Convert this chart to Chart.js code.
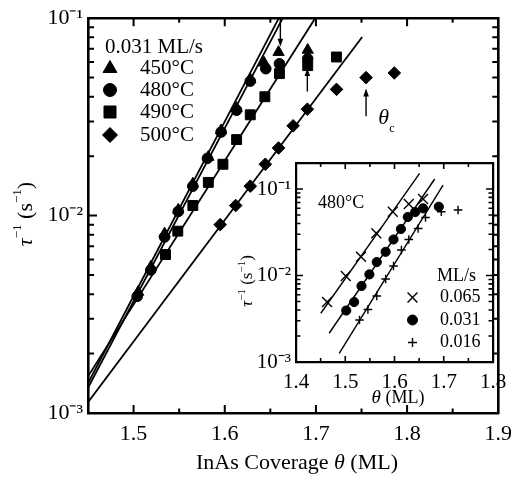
<!DOCTYPE html>
<html><head><meta charset="utf-8">
<script src="https://cdn.jsdelivr.net/npm/chart.js@4/dist/chart.umd.min.js"></script>
<style>
html,body{margin:0;padding:0;background:#fff;}
#wrap{position:relative;width:520px;height:478px;background:#fff;}
canvas{position:absolute;left:0;top:0;}
</style></head><body>
<div id="wrap"><canvas id="main" width="520" height="478"></canvas><canvas id="inset" width="520" height="478"></canvas></div>
<script>
// ---------------- main panel data ----------------
const mainRate = '0.031 ML/s';
const seriesNames = ['450°C', '480°C', '490°C', '500°C'];
const theta450 = [1.505, 1.519, 1.534, 1.549, 1.565, 1.582, 1.596, 1.613, 1.628, 1.643, 1.659, 1.691];
const tau450   = [0.0041, 0.0055, 0.0081, 0.0107, 0.0145, 0.0198, 0.0270, 0.0350, 0.0490, 0.0595, 0.0673, 0.0690];
const theta480 = [1.504, 1.519, 1.534, 1.549, 1.565, 1.581, 1.596, 1.613, 1.628, 1.645, 1.660, 1.691];
const tau480   = [0.0039, 0.0053, 0.0078, 0.0105, 0.0141, 0.0195, 0.0265, 0.0342, 0.0480, 0.0555, 0.0588, 0.0623];
const theta490 = [1.535, 1.5485, 1.565, 1.582, 1.598, 1.613, 1.628, 1.644, 1.660, 1.691, 1.7225];
const tau490   = [0.00635, 0.00834, 0.01125, 0.01473, 0.0182, 0.02427, 0.0324, 0.0400, 0.0524, 0.0575, 0.0636];
const theta500 = [1.595, 1.612, 1.628, 1.6445, 1.659, 1.675, 1.6906, 1.7226, 1.755, 1.786];
const tau500   = [0.0090, 0.01125, 0.0141, 0.0182, 0.0220, 0.0285, 0.0346, 0.0436, 0.0500, 0.0528];
// fitted lines (end points)
const fitTheta450 = [1.45, 1.6593]; const fitTau450 = [0.001414, 0.1];
const fitTheta480 = [1.45, 1.6636]; const fitTau480 = [0.001343, 0.1];
const fitTheta490 = [1.45, 1.6992]; const fitTau490 = [0.001533, 0.1];
const fitTheta500 = [1.45, 1.7507]; const fitTau500 = [0.001135, 0.0803];
// arrows marking theta_c
const arrowTheta = [1.661, 1.6906, 1.755];
const arrowFrom  = [0.1, 0.0425, 0.0319];
const arrowTo    = [0.0716, 0.0560, 0.0441];
const thetaCLabelAt = [1.7685, 0.0312];

// ---------------- inset data ----------------
const insetTemp = '480°C';
const insetUnit = 'ML/s';
const insetRates = ['0.065', '0.031', '0.016'];
const thetaR065 = [1.463, 1.501, 1.532, 1.563, 1.5965, 1.629, 1.658];
const tauR065   = [0.00494, 0.00986, 0.0165, 0.0308, 0.0547, 0.0671, 0.0766];
const thetaR031 = [1.502, 1.518, 1.533, 1.549, 1.564, 1.582, 1.598, 1.613, 1.627, 1.642, 1.658, 1.690];
const tauR031   = [0.00394, 0.00494, 0.00757, 0.0103, 0.0143, 0.0188, 0.0261, 0.0345, 0.0475, 0.0542, 0.0598, 0.0624];
const thetaR016 = [1.529, 1.546, 1.564, 1.582, 1.598, 1.614, 1.629, 1.648, 1.663, 1.695, 1.729];
const tauR016   = [0.00306, 0.00405, 0.00579, 0.00912, 0.0129, 0.0197, 0.0261, 0.0349, 0.0469, 0.0547, 0.0572];
const fitThetaR065 = [1.4504, 1.651]; const fitTauR065 = [0.00366, 0.152];
const fitThetaR031 = [1.4673, 1.6816]; const fitTauR031 = [0.00215, 0.1306];
const fitThetaR016 = [1.4878, 1.6986]; const fitTauR016 = [0.00126, 0.111];

// ---------------- helpers ----------------
const FONT = "'Liberation Serif','Times New Roman',serif";
const BLACK = '#000';
function pts(xs, ys) { return xs.map((x, i) => ({ x: x, y: ys[i] })); }
function markerDS(label, xs, ys, style, r, bw) {
  return { label: label, data: pts(xs, ys), pointStyle: style, pointRadius: r, pointHoverRadius: r,
    backgroundColor: BLACK, borderColor: BLACK, pointBorderWidth: bw, showLine: false, order: 1 };
}
function lineDS(xs, ys, w) {
  return { label: 'fit', data: pts(xs, ys), showLine: true, pointRadius: 0, pointHoverRadius: 0,
    borderColor: BLACK, borderWidth: w, fill: false, tension: 0, order: 2 };
}
const SUP = { '-': '⁻', '0': '⁰', '1': '¹', '2': '²', '3': '³', '4': '⁴', '5': '⁵', '6': '⁶', '7': '⁷', '8': '⁸', '9': '⁹' };
function decadeLabel(v) {
  const e = Math.log10(v);
  if (Math.abs(e - Math.round(e)) > 1e-6) return '';
  return '10' + String(Math.round(e)).split('').map(c => SUP[c]).join('');
}
function isTenth(v) { return Math.abs(v * 10 - Math.round(v * 10)) < 1e-6; }
function drawMarker(ctx, style, x, y, r, lw) {
  ctx.save(); ctx.fillStyle = BLACK; ctx.strokeStyle = BLACK; ctx.lineWidth = lw; ctx.beginPath();
  if (style === 'triangle') { ctx.moveTo(x, y - r); ctx.lineTo(x + 0.866 * r, y + 0.5 * r); ctx.lineTo(x - 0.866 * r, y + 0.5 * r); ctx.closePath(); ctx.fill(); ctx.stroke(); }
  else if (style === 'circle') { ctx.arc(x, y, r, 0, Math.PI * 2); ctx.fill(); ctx.stroke(); }
  else if (style === 'rect') { const s = 0.7071 * r; ctx.rect(x - s, y - s, 2 * s, 2 * s); ctx.fill(); ctx.stroke(); }
  else if (style === 'rectRot') { ctx.moveTo(x, y - r); ctx.lineTo(x + r, y); ctx.lineTo(x, y + r); ctx.lineTo(x - r, y); ctx.closePath(); ctx.fill(); ctx.stroke(); }
  else if (style === 'crossRot') { const s = 0.7071 * r; ctx.moveTo(x - s, y - s); ctx.lineTo(x + s, y + s); ctx.moveTo(x + s, y - s); ctx.lineTo(x - s, y + s); ctx.stroke(); }
  else if (style === 'cross') { ctx.moveTo(x - r, y); ctx.lineTo(x + r, y); ctx.moveTo(x, y - r); ctx.lineTo(x, y + r); ctx.stroke(); }
  ctx.restore();
}
function drawRich(ctx, pieces, cx, cy, rot) {
  ctx.save(); ctx.translate(cx, cy); if (rot) ctx.rotate(rot);
  let w = 0;
  pieces.forEach(p => { ctx.font = p.font; p.w = ctx.measureText(p.t).width; w += p.w; });
  let x = -w / 2; ctx.textBaseline = 'middle'; ctx.textAlign = 'left'; ctx.fillStyle = BLACK;
  pieces.forEach(p => { ctx.font = p.font; ctx.fillText(p.t, x, p.dy || 0); x += p.w; });
  ctx.restore();
}
function text(ctx, t, x, y, font, align) {
  ctx.save(); ctx.font = font; ctx.fillStyle = BLACK; ctx.textAlign = align || 'left'; ctx.textBaseline = 'middle';
  ctx.fillText(t, x, y); ctx.restore();
}
function logMinors(lo, hi) { // tick positions 2..9 x decade within range
  const out = [];
  for (let e = Math.floor(Math.log10(lo)); e <= Math.ceil(Math.log10(hi)); e++) {
    for (let m = 2; m <= 9; m++) { const v = m * Math.pow(10, e); if (v > lo * 1.0001 && v < hi * 0.9999) out.push(v); }
  }
  return out;
}
function tickPlugin(cfg) {
  return {
    id: 'inTicks',
    afterDatasetsDraw(chart) {
      const ctx = chart.ctx, a = chart.chartArea, xs = chart.scales.x, ys = chart.scales.y;
      ctx.save(); ctx.strokeStyle = BLACK; ctx.lineWidth = cfg.lw; ctx.beginPath();
      const vx = (v, L) => { const p = xs.getPixelForValue(v); ctx.moveTo(p, a.bottom); ctx.lineTo(p, a.bottom - L); ctx.moveTo(p, a.top); ctx.lineTo(p, a.top + L); };
      const vy = (v, L) => { const p = ys.getPixelForValue(v); ctx.moveTo(a.left, p); ctx.lineTo(a.left + L, p); ctx.moveTo(a.right, p); ctx.lineTo(a.right - L, p); };
      cfg.xMajor.forEach(v => vx(v, cfg.xMajL)); cfg.xMinor.forEach(v => vx(v, cfg.xMinL));
      cfg.yMajor.forEach(v => vy(v, cfg.yMajL)); cfg.yMinor.forEach(v => vy(v, cfg.yMinL));
      ctx.stroke(); ctx.restore();
    }
  };
}
function axes(xmin, xmax, ymin, ymax, fontSize, bw, xH, yW) {
  const common = { grid: { display: false, drawTicks: false }, border: { display: true, color: BLACK, width: bw } };
  return {
    x: Object.assign({ type: 'linear', position: 'bottom', min: xmin, max: xmax,
      ticks: { stepSize: 0.05, autoSkip: false, maxRotation: 0, padding: 8, color: BLACK, font: { family: FONT, size: fontSize },
        callback: v => isTenth(v) ? Number(v).toFixed(1) : '' },
      afterFit: s => { s.height = xH; } }, common),
    x2: Object.assign({ type: 'linear', position: 'top', min: xmin, max: xmax, ticks: { display: false },
      afterFit: s => { s.height = 0; } }, common),
    y: Object.assign({ type: 'logarithmic', position: 'left', min: ymin, max: ymax,
      ticks: { autoSkip: false, padding: 5, color: BLACK, font: { family: FONT, size: fontSize }, callback: v => decadeLabel(v) },
      afterFit: s => { s.width = yW; } }, common),
    y2: Object.assign({ type: 'logarithmic', position: 'right', min: ymin, max: ymax, ticks: { display: false },
      afterFit: s => { s.width = 0; } }, common)
  };
}

// ---------------- main chart ----------------
const mainStyles = ['triangle', 'circle', 'rect', 'rectRot'];
const mainText = {
  id: 'mainText',
  afterDraw(chart) {
    const ctx = chart.ctx, xs = chart.scales.x, ys = chart.scales.y;
    // arrows
    ctx.save(); ctx.strokeStyle = BLACK; ctx.fillStyle = BLACK; ctx.lineWidth = 1.4;
    arrowTheta.forEach((t, i) => {
      const px = xs.getPixelForValue(t), y0 = ys.getPixelForValue(arrowFrom[i]), y1 = ys.getPixelForValue(arrowTo[i]);
      const dir = Math.sign(y1 - y0);
      ctx.beginPath(); ctx.moveTo(px, y0); ctx.lineTo(px, y1 - dir * 6); ctx.stroke();
      ctx.beginPath(); ctx.moveTo(px, y1); ctx.lineTo(px - 2.8, y1 - dir * 8); ctx.lineTo(px + 2.8, y1 - dir * 8); ctx.closePath(); ctx.fill();
    });
    ctx.restore();
    // theta_c label
    const lx = xs.getPixelForValue(thetaCLabelAt[0]), ly = ys.getPixelForValue(thetaCLabelAt[1]);
    text(ctx, 'θ', lx, ly, 'italic 22px ' + FONT, 'left');
    text(ctx, 'c', lx + 11, ly + 11, '12px ' + FONT, 'left');
    // legend
    text(ctx, mainRate, 105, 47, '21px ' + FONT, 'left');
    const ly0 = [68.5, 90, 112, 135];
    const lr = [8, 6.5, 8.5, 7.5];
    seriesNames.forEach((n, i) => {
      drawMarker(ctx, mainStyles[i], 110, ly0[i], lr[i], 1);
      text(ctx, n, 140, ly0[i], '21px ' + FONT, 'left');
    });
    // axis titles
    drawRich(ctx, [
      { t: 'InAs Coverage ', font: '22px ' + FONT },
      { t: 'θ', font: 'italic 22px ' + FONT },
      { t: ' (ML)', font: '22px ' + FONT }], 297, 463, 0);
    drawRich(ctx, [
      { t: 'τ', font: 'italic 22px ' + FONT },
      { t: '−1', font: '13px ' + FONT, dy: -8 },
      { t: ' (s', font: '22px ' + FONT },
      { t: '−1', font: '13px ' + FONT, dy: -8 },
      { t: ')', font: '22px ' + FONT }], 26, 214, -Math.PI / 2);
  }
};
new Chart(document.getElementById('main'), {
  type: 'scatter',
  data: { datasets: [
    markerDS(seriesNames[0], theta450, tau450, 'triangle', 6.5, 1),
    markerDS(seriesNames[1], theta480, tau480, 'circle', 5.3, 1),
    markerDS(seriesNames[2], theta490, tau490, 'rect', 7, 1),
    markerDS(seriesNames[3], theta500, tau500, 'rectRot', 6.3, 1),
    lineDS(fitTheta450, fitTau450, 1.8),
    lineDS(fitTheta480, fitTau480, 1.8),
    lineDS(fitTheta490, fitTau490, 1.8),
    lineDS(fitTheta500, fitTau500, 1.8)
  ] },
  options: {
    responsive: false, animation: false, devicePixelRatio: 1,
    layout: { padding: { top: 14, right: 15, left: 0, bottom: 0 } },
    plugins: { legend: { display: false }, tooltip: { enabled: false } },
    scales: axes(1.45, 1.9, 0.001, 0.1, 22, 2.6, 65, 88)
  },
  plugins: [tickPlugin({ lw: 2, xMajor: [1.5, 1.6, 1.7, 1.8], xMinor: [1.55, 1.65, 1.75, 1.85], xMajL: 8, xMinL: 4.5,
    yMajor: [0.01], yMinor: logMinors(0.001, 0.1), yMajL: 9, yMinL: 6 }), mainText]
});

// ---------------- inset chart ----------------
const insetStyles = ['crossRot', 'circle', 'cross'];
const insetText = {
  id: 'insetText',
  beforeDraw(chart) {
    const a = chart.chartArea, ctx = chart.ctx;
    ctx.save(); ctx.fillStyle = '#fff'; ctx.fillRect(a.left, a.top, a.right - a.left, a.bottom - a.top); ctx.restore();
  },
  afterDraw(chart) {
    const ctx = chart.ctx;
    text(ctx, insetTemp, 318, 203, '18px ' + FONT, 'left');
    text(ctx, insetUnit, 437, 276, '18px ' + FONT, 'left');
    const ly0 = [297.5, 320, 342.5];
    const lr = [7, 5, 4.5];
    const lw = [1.4, 1, 1.4];
    insetRates.forEach((n, i) => {
      drawMarker(ctx, insetStyles[i], 412.5, ly0[i], lr[i], lw[i]);
      text(ctx, n, 440, ly0[i], '18px ' + FONT, 'left');
    });
    drawRich(ctx, [
      { t: 'θ', font: 'italic 19px ' + FONT },
      { t: ' (ML)', font: '18px ' + FONT }], 398, 398, 0);
    drawRich(ctx, [
      { t: 'τ', font: 'italic 17px ' + FONT },
      { t: '−1', font: '11px ' + FONT, dy: -6 },
      { t: ' (s', font: '17px ' + FONT },
      { t: '−1', font: '11px ' + FONT, dy: -6 },
      { t: ')', font: '17px ' + FONT }], 248, 281, -Math.PI / 2);
  }
};
new Chart(document.getElementById('inset'), {
  type: 'scatter',
  data: { datasets: [
    markerDS(insetRates[0], thetaR065, tauR065, 'crossRot', 7, 1.4),
    markerDS(insetRates[1], thetaR031, tauR031, 'circle', 4.6, 1),
    markerDS(insetRates[2], thetaR016, tauR016, 'cross', 4.3, 1.4),
    lineDS(fitThetaR065, fitTauR065, 1.4),
    lineDS(fitThetaR031, fitTauR031, 1.4),
    lineDS(fitThetaR016, fitTauR016, 1.4)
  ] },
  options: {
    responsive: false, animation: false, devicePixelRatio: 1,
    layout: { padding: { top: 163, right: 27, left: 0, bottom: 0 } },
    plugins: { legend: { display: false }, tooltip: { enabled: false } },
    scales: axes(1.4, 1.8, 0.001, 0.2, 21, 2.2, 116, 296)
  },
  plugins: [insetText, tickPlugin({ lw: 1.6, xMajor: [1.5, 1.6, 1.7], xMinor: [1.45, 1.55, 1.65, 1.75], xMajL: 6, xMinL: 4,
    yMajor: [0.01, 0.1], yMinor: logMinors(0.001, 0.2), yMajL: 7, yMinL: 4.5 })]
});
</script>
</body></html>
